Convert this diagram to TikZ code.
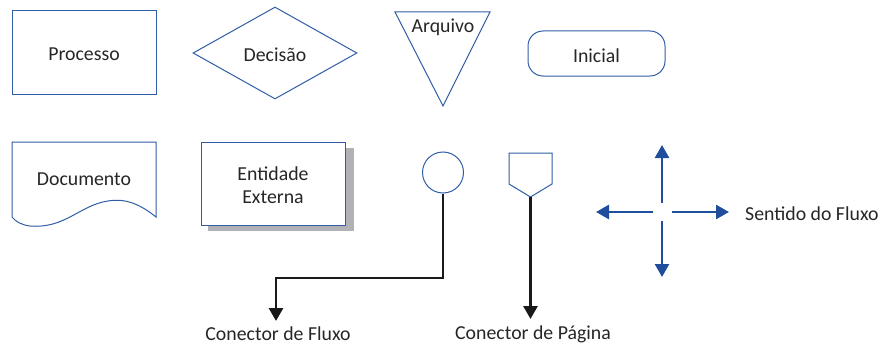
\documentclass[tikz,border=0pt]{standalone}
\usepackage{fontspec}
\setmainfont{Carlito}
\usetikzlibrary{shapes.geometric,arrows.meta}
\definecolor{shapeblue}{HTML}{2F5DA6}
\definecolor{arrowblue}{HTML}{1F4E9C}
\definecolor{txt}{HTML}{262626}
\definecolor{shadowgray}{HTML}{B2B2B6}
\tikzset{
  outline/.style={draw=shapeblue, line width=1pt},
  lbl/.style={font=\fontsize{19.8}{23}\selectfont, text=txt},
  blackflow/.style={draw=black!90, line width=2.8pt, -{Triangle[length=13pt,width=14pt]}},
  blueflow/.style={draw=arrowblue, line width=2.6pt, -{Triangle[length=13pt,width=14pt]}}
}
\begin{document}
\begin{tikzpicture}[x=1pt,y=-1pt]
\useasboundingbox (0,0) rectangle (883,345);
% Processo
\node[outline, rectangle, minimum width=144pt, minimum height=83pt] (proc) at (84,52.5) {};
\node[lbl] (proct) at (84,54.5) {Processo};
% Decisao
\node[outline, diamond, minimum width=164pt, minimum height=92pt, inner sep=0pt] (dec) at (275,53) {};
\node[lbl] (dect) at (275,55) {Decisão};
% Arquivo
\draw[outline] (395,12) -- (490,12) -- (443,106) -- cycle;
\node[lbl] (arq) at (443,27) {Arquivo};
% Inicial
\node[outline, rectangle, rounded corners=15pt, minimum width=137pt, minimum height=45pt] (ini) at (596.5,53.5) {};
\node[lbl] (init) at (596.5,55.5) {Inicial};
% Documento
\draw[outline] (12,217) -- (12,142) -- (156,142) -- (156,217)
  .. controls (140,204) and (125,198) .. (108,201)
  .. controls (80,205) and (65,229) .. (30,226)
  .. controls (22,225) and (16,222) .. (12,217);
\node[lbl] (doc) at (84,179) {Documento};
% Entidade Externa
\fill[shadowgray] (208,148) rectangle (354,231);
\node[outline, rectangle, fill=white, minimum width=144pt, minimum height=83pt] (ent) at (273,183.5) {};
\node[lbl, align=center] (entt) at (273,185) {Entidade\\Externa};
% Conector de fluxo
\node[outline, circle, minimum size=41pt, inner sep=0pt] (circ) at (443,172.5) {};
\coordinate (c1) at (443,278);
\coordinate (c2) at (276,278);
\coordinate (c3) at (276,321);
\draw[blackflow] (circ.south) -- (c1) -- (c2) -- (c3);
\node[lbl] (cfl) at (278,334) {Conector de Fluxo};
% Conector de pagina
\draw[outline] (509,153) -- (552,153) -- (552,184) -- (530.5,197) -- (509,184) -- cycle;
\coordinate (pg) at (530.5,197);
\coordinate (pgend) at (530.5,319);
\draw[blackflow] (pg) -- (pgend);
\node[lbl] (cpg) at (533,334) {Conector de Página};
% Sentido do fluxo
\coordinate (cu0) at (662,203);
\coordinate (cu1) at (662,145);
\coordinate (cd0) at (662,221);
\coordinate (cd1) at (662,277);
\coordinate (cl0) at (653,212);
\coordinate (cl1) at (596,212);
\coordinate (cr0) at (672,212);
\coordinate (cr1) at (729,212);
\draw[blueflow] (cu0) -- (cu1);
\draw[blueflow] (cd0) -- (cd1);
\draw[blueflow] (cl0) -- (cl1);
\draw[blueflow] (cr0) -- (cr1);
\node[lbl, anchor=west, inner sep=0pt] (sent) at (745,213.5) {Sentido do Fluxo};
\end{tikzpicture}
\end{document}
